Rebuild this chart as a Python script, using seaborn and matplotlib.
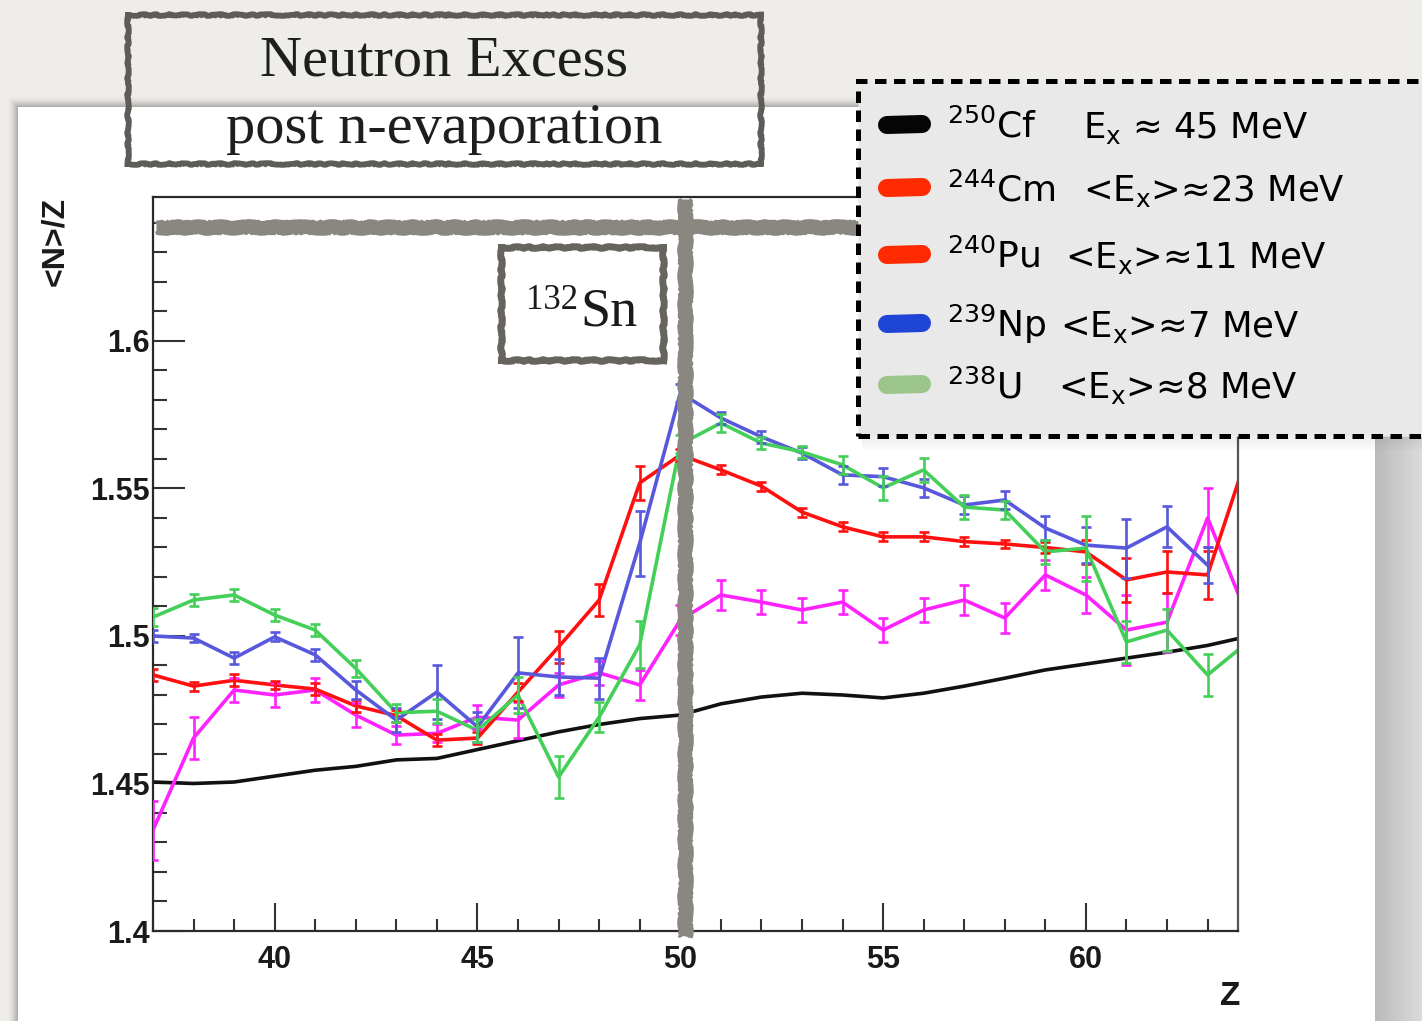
import numpy as np
import pandas as pd
import matplotlib
matplotlib.use("Agg")
import matplotlib.pyplot as plt
import seaborn as sns
from matplotlib.lines import Line2D
from matplotlib.patches import Rectangle
from matplotlib.ticker import MultipleLocator

# ---------------- data ----------------
Z = list(range(37, 65))
cf_val = [1.4505, 1.4500, 1.4505, 1.4525, 1.4545, 1.4558, 1.4580, 1.4585, 1.4615, 1.4645,
          1.4675, 1.4700, 1.4720, 1.4732, 1.4770, 1.4793, 1.4806, 1.4800, 1.4790, 1.4806,
          1.4830, 1.4857, 1.4885, 1.4905, 1.4925, 1.4945, 1.4968, 1.4999]
pu_val = [1.4868, 1.4830, 1.4850, 1.4834, 1.4820, 1.4763, 1.4730, 1.4647, 1.4654, 1.4810,
          1.4963, 1.5122, 1.5519, 1.5614, 1.5563, 1.5508, 1.5420, 1.5370, 1.5336, 1.5336,
          1.5320, 1.5312, 1.5300, 1.5285, 1.5190, 1.5217, 1.5207, 1.5623]
pu_err = [0.002, 0.0015, 0.002, 0.0015, 0.002, 0.002, 0.002, 0.002, 0.002, 0.003,
          0.0055, 0.0055, 0.0057, 0.002, 0.0015, 0.0015, 0.0015, 0.0015, 0.0015, 0.0015,
          0.0015, 0.0015, 0.002, 0.004, 0.0075, 0.007, 0.008, 0.01]
np_val = [1.5000, 1.4993, 1.4925, 1.4997, 1.4936, 1.4817, 1.4715, 1.4810, 1.4692, 1.4875,
          1.4861, 1.4857, 1.5315, 1.5824, 1.5739, 1.5675, 1.5620, 1.5546, 1.5540, 1.5502,
          1.5444, 1.5461, 1.5366, 1.5308, 1.5298, 1.5370, 1.5240, np.nan]
np_err = [0.002, 0.0015, 0.002, 0.0015, 0.002, 0.003, 0.004, 0.009, 0.005, 0.012,
          0.006, 0.007, 0.011, 0.003, 0.002, 0.002, 0.002, 0.003, 0.003, 0.003,
          0.003, 0.003, 0.004, 0.006, 0.010, 0.007, 0.006, np.nan]
u_val = [1.5064, 1.5122, 1.5139, 1.5071, 1.5020, 1.4890, 1.4740, 1.4745, 1.4680, 1.4800,
         1.4522, 1.4725, 1.4970, 1.5650, 1.5722, 1.5654, 1.5624, 1.5580, 1.5502, 1.5563,
         1.5437, 1.5427, 1.5285, 1.5298, 1.4980, 1.5020, 1.4868, 1.4980]
u_err = [0.003, 0.002, 0.002, 0.002, 0.002, 0.003, 0.003, 0.004, 0.004, 0.006,
         0.007, 0.005, 0.008, 0.003, 0.003, 0.002, 0.002, 0.003, 0.004, 0.004,
         0.004, 0.003, 0.004, 0.011, 0.007, 0.007, 0.007, 0.007]
cm_val = [1.4342, 1.4654, 1.4817, 1.4800, 1.4817, 1.4732, 1.4664, 1.4670, 1.4725, 1.4715,
          1.4834, 1.4875, 1.4834, 1.5054, 1.5139, 1.5115, 1.5088, 1.5115, 1.5020, 1.5088,
          1.5122, 1.5061, 1.5207, 1.5139, 1.5020, 1.5047, 1.5400, 1.5060]
cm_err = [0.010, 0.007, 0.004, 0.004, 0.004, 0.004, 0.003, 0.003, 0.004, 0.006,
          0.004, 0.004, 0.005, 0.005, 0.005, 0.004, 0.004, 0.004, 0.004, 0.004,
          0.005, 0.005, 0.005, 0.006, 0.012, 0.010, 0.010, 0.010]

x_ticks = [40, 45, 50, 55, 60]
x_ticklabels = ["40", "45", "50", "55", "60"]
y_ticks = [1.40, 1.45, 1.50, 1.55, 1.60]
y_ticklabels = ["1.4", "1.45", "1.5", "1.55", "1.6"]

legend_sup = ["250", "244", "240", "239", "238"]
legend_el = ["Cf", "Cm", "Pu", "Np", "U"]
legend_ex = [r"E$_\mathregular{x}$ ≈ 45 MeV", r"<E$_\mathregular{x}$>≈23 MeV",
             r"<E$_\mathregular{x}$>≈11 MeV", r"<E$_\mathregular{x}$>≈7 MeV",
             r"<E$_\mathregular{x}$>≈8 MeV"]

# ---------------- style ----------------
sns.set_theme(style="white")
plt.rcParams["font.family"] = ["DejaVu Sans"]
plt.rcParams["mathtext.fontset"] = "dejavusans"

W, H = 1422, 1021
fig = plt.figure(figsize=(W / 100, H / 100), dpi=100, facecolor="#efede9")


def fx(x):
    return x / W


def fy(y):
    return 1 - y / H


def frect(x0, y0, x1, y1, **kw):
    r = Rectangle((fx(x0), fy(y1)), fx(x1) - fx(x0), fy(y0) - fy(y1),
                  transform=fig.transFigure, **kw)
    fig.add_artist(r)
    return r


def fline(xs, ys, **kw):
    l = Line2D([fx(v) for v in xs], [fy(v) for v in ys], transform=fig.transFigure, **kw)
    fig.add_artist(l)
    return l


def rough_box(x0, y0, x1, y1, lw, color, z):
    for xs, ys in (([x0, x1], [y0, y0]), ([x0, x1], [y1, y1]),
                   ([x0, x0], [y0, y1]), ([x1, x1], [y0, y1])):
        l = fline(xs, ys, lw=lw, color=color, solid_capstyle="projecting", zorder=z)
        l.set_sketch_params(0.8, 30, 8)
        l = fline(xs, ys, lw=lw * 0.45, color=color, solid_capstyle="projecting", zorder=z)
        l.set_sketch_params(1.6, 5, 3)


# panel shadows and white panel
for i in range(12):
    a = 0.05 * (1 - i / 12)
    frect(18 - i, 107 - i, 1375 + i, 1021, facecolor="black", alpha=a, edgecolor="none", zorder=-3)
for i, c in enumerate(np.linspace(0.73, 0.86, 24)):
    frect(1375 + 2 * i, 107, 1377 + 2 * i, 1021, facecolor=str(c), edgecolor="none", zorder=-2.5)
frect(18, 107, 1375, 1021, facecolor="white", edgecolor="none", zorder=-2)

# ---------------- axes ----------------
ax = fig.add_axes([fx(153), fy(931), fx(1238) - fx(153), (931 - 197) / H])
ax.set_facecolor("white")

names = ["Cf", "Cm", "Pu", "Np", "U"]
vals = [cf_val, cm_val, pu_val, np_val, u_val]
errs = [None, cm_err, pu_err, np_err, u_err]
line_colors = {"Cf": "#111111", "Cm": "#ff22ff", "Pu": "#ff1010", "Np": "#5858dc", "U": "#44cf58"}

rows = []
for n, v in zip(names, vals):
    for z, y in zip(Z, v):
        if not np.isnan(y):
            rows.append({"Z": z, "val": y, "nucleus": n})
df = pd.DataFrame(rows)

sns.lineplot(data=df, x="Z", y="val", hue="nucleus", hue_order=names, palette=line_colors,
             estimator=None, errorbar=None, linewidth=2.6, legend=False, ax=ax)
for n, v, e in zip(names, vals, errs):
    if e is None:
        continue
    ax.errorbar(Z, v, yerr=e, fmt="none", ecolor=line_colors[n], elinewidth=1.9,
                capsize=3.6, capthick=1.9, zorder=3)

ax.set_xlim(37, 63.75)
ax.set_ylim(1.4, 1.6488)
ax.set_xticks(x_ticks, labels=x_ticklabels, fontweight="bold", fontsize=22, family="Liberation Sans")
ax.set_yticks(y_ticks, labels=y_ticklabels, fontweight="bold", fontsize=22, family="Liberation Sans")
ax.xaxis.set_minor_locator(MultipleLocator(1))
ax.yaxis.set_minor_locator(MultipleLocator(0.01))
ax.tick_params(axis="both", which="both", direction="in", top=False, right=False,
               bottom=True, left=True, color="#333333", width=1.5, labelcolor="#1a1a1a")
ax.tick_params(axis="y", which="major", length=23, pad=2)
ax.tick_params(axis="y", which="minor", length=10)
ax.tick_params(axis="x", which="major", length=20, pad=10)
ax.tick_params(axis="x", which="minor", length=9)
for s in ax.spines.values():
    s.set_visible(True)
    s.set_color("#2a2a2a")
    s.set_linewidth(1.6)
ax.spines["right"].set_color("#555555")

ax.set_ylabel("<N>/Z", fontsize=23, fontweight="bold", family="Liberation Sans", color="#1a1a1a")
ax.yaxis.set_label_coords(-0.0765, 0.94)
ax.set_xlabel("Z", fontsize=24, fontweight="bold", family="Liberation Sans", color="#1a1a1a")
ax.xaxis.set_label_coords(0.9926, -0.068)

# ---------------- sketchy grey annotations ----------------
grey = "#8a8780"
l = fline([156, 858], [227, 227], lw=10.5, color=grey, solid_capstyle="butt", zorder=6)
l.set_sketch_params(1.0, 40, 6)
for dy in (-5, 5):
    l = fline([156, 858], [227 + dy, 227 + dy], lw=2.0, color=grey, zorder=6)
    l.set_sketch_params(1.5, 6, 4)
l = fline([685, 685], [199, 936], lw=10.5, color=grey, solid_capstyle="butt", zorder=6)
l.set_sketch_params(1.0, 40, 6)
for dx in (-5, 5):
    l = fline([685 + dx, 685 + dx], [199, 936], lw=2.0, color=grey, zorder=6)
    l.set_sketch_params(1.5, 6, 4)

# 132Sn box
frect(501, 247, 663, 360, facecolor="white", edgecolor="none", zorder=7)
rough_box(501, 247, 663, 360, 5.0, "#676460", 7)
fig.text(fx(580), fy(325), "Sn", ha="left", va="baseline", fontsize=39,
         family="Liberation Serif", color="#1a1a1a", zorder=8)
fig.text(fx(578), fy(309), "132", ha="right", va="baseline", fontsize=25,
         family="Liberation Serif", color="#1a1a1a", zorder=8)

# title box
rough_box(128, 15, 761, 164, 4.2, "#5e5c59", 9)
fig.text(fx(444.5), fy(75), "Neutron Excess", ha="center", va="baseline", fontsize=42,
         family="Liberation Serif", color="#1e1e1e", zorder=9)
fig.text(fx(444.5), fy(143), "post n-evaporation", ha="center", va="baseline", fontsize=42,
         family="Liberation Serif", color="#1e1e1e", zorder=9)

# ---------------- legend box ----------------
for i in range(14):
    a = 0.07 * (1 - i / 14)
    frect(862, 437 + i, 1422, 438 + i, facecolor="black", alpha=a, edgecolor="none", zorder=9)
frect(858, 81, 1445, 436, facecolor="#e9e9e9", edgecolor="black", lw=3.6,
      linestyle=(0, (2.3, 1.5)), zorder=10)

swatch_colors = ["#050505", "#ff2a00", "#ff2a00", "#1f45d6", "#9cc58c"]
base_y = [138, 201, 268, 337, 398]
ex_x = [1083, 1083, 1065, 1060, 1058]
for sup, el, ex, col, by, xx in zip(legend_sup, legend_el, legend_ex, swatch_colors, base_y, ex_x):
    sy = by - 13
    fline([887, 922], [sy, sy - 1], lw=13, color=col, solid_capstyle="round", zorder=11)
    fig.text(fx(947), fy(by), "$^{" + sup + "}$" + el, ha="left", va="baseline",
             fontsize=26, color="black", zorder=11)
    fig.text(fx(xx), fy(by), ex, ha="left", va="baseline", fontsize=25.5,
             color="black", zorder=11)

fig.savefig("out.png", dpi=100, facecolor=fig.get_facecolor())
